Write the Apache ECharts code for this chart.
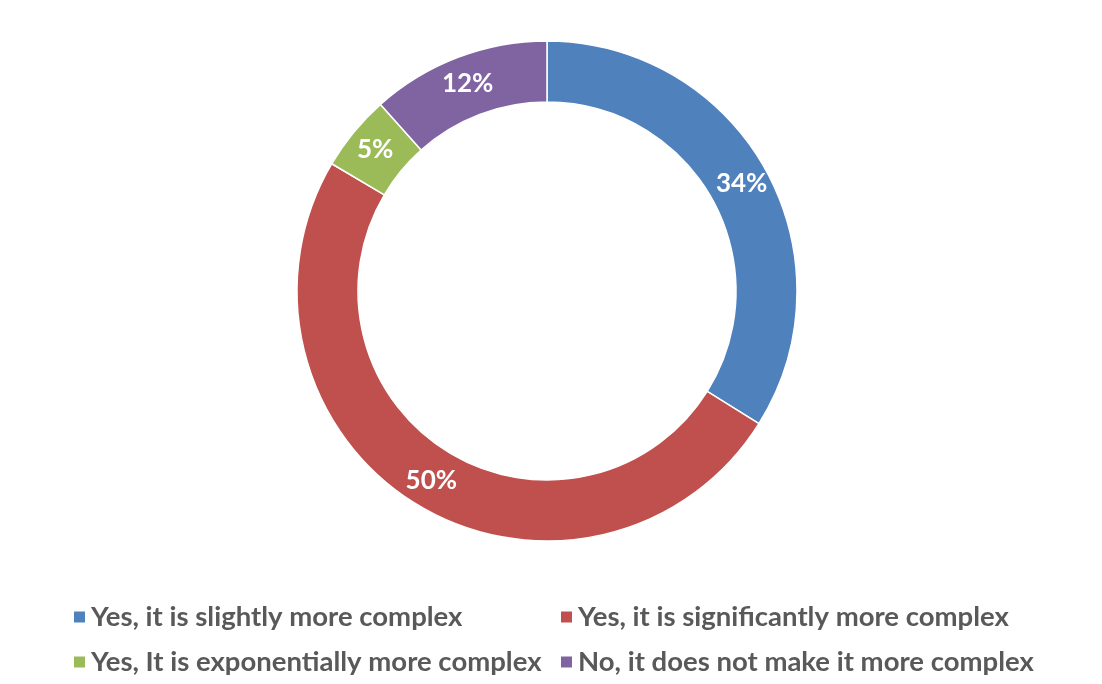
<!DOCTYPE html>
<html><head><meta charset="utf-8">
<script src="https://cdn.jsdelivr.net/npm/echarts@6/dist/echarts.min.js"></script>
<style>html,body{margin:0;padding:0;background:#fff}#c{width:1102px;height:684px}</style>
</head><body><div id="c"></div>
<script>
const categories = ["Yes, it is slightly more complex", "Yes, it is significantly more complex", "Yes, It is exponentially more complex", "No, it does not make it more complex"];
const values = [33.9, 49.6, 4.9, 11.6];
const colors = ["#4F81BD", "#C0504D", "#9BBB59", "#8064A2"];

const FONT = "Lato";
const chart = echarts.init(document.getElementById('c'), null, {renderer: 'canvas'});
const legendPos = [[67, 598], [554, 598], [67, 643], [554, 643]];
const legends = categories.map((name, i) => ({
  data: [name], left: legendPos[i][0], top: legendPos[i][1],
  icon: 'rect', itemWidth: 13, itemHeight: 13, itemGap: 0,
  textStyle: {fontFamily: FONT, fontWeight: 'bold', fontSize: 27.5, color: '#595959', padding: [0, 0, 0, 0]},
  selectedMode: false
}));
chart.setOption({
  animation: false,
  color: colors,
  legend: legends,
  series: [{
    type: 'pie',
    center: [547, 291],
    radius: [189, 250],
    startAngle: 90,
    clockwise: true,
    avoidLabelOverlap: false,
    itemStyle: {borderColor: '#fff', borderWidth: 1.5},
    label: {
      show: true, position: 'inside', color: '#fff', fontFamily: FONT, fontWeight: 'bold', fontSize: 26,
      formatter: p => Math.round(p.value) + '%'
    },
    labelLine: {show: false},
    emphasis: {disabled: true},
    data: categories.map((c, i) => ({name: c, value: values[i]}))
  }]
});
</script></body></html>
